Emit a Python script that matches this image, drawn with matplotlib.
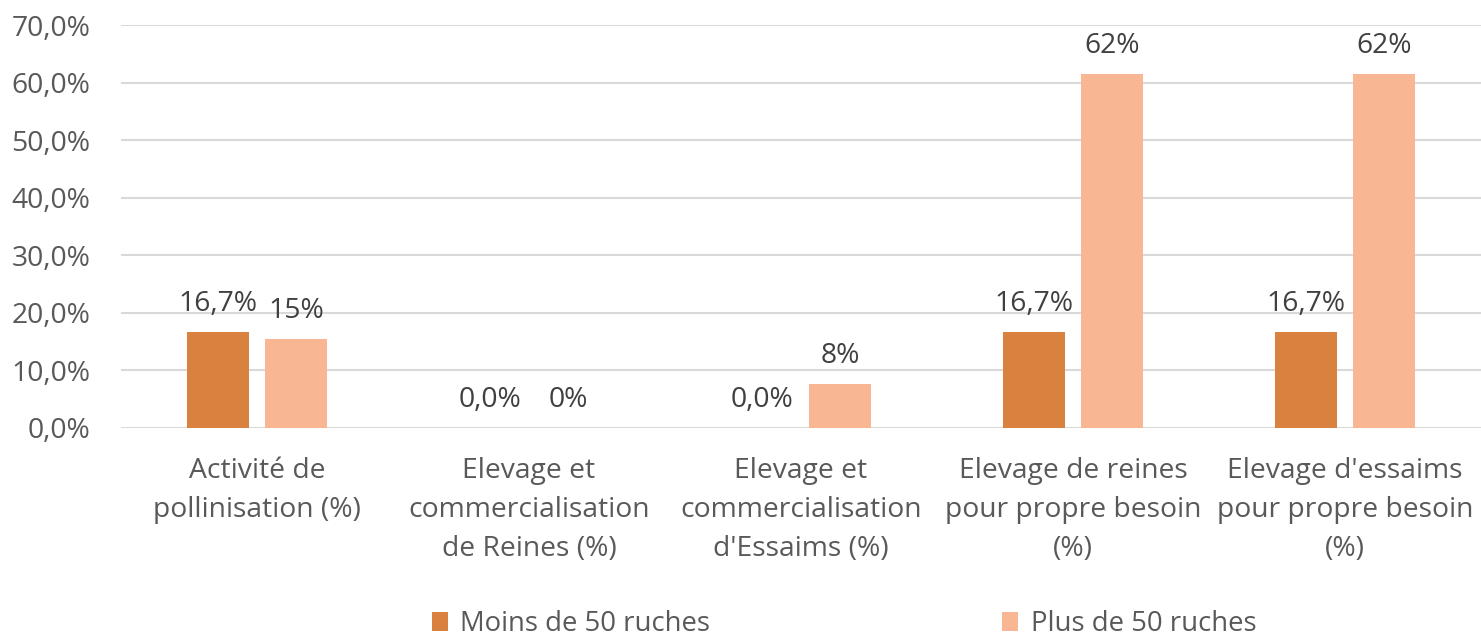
import matplotlib
matplotlib.use("Agg")
import matplotlib.pyplot as plt
import numpy as np
from matplotlib.ticker import FuncFormatter

categories = ["Activité de\npollinisation (%)",
              "Elevage et\ncommercialisation\nde Reines (%)",
              "Elevage et\ncommercialisation\nd'Essaims (%)",
              "Elevage de reines\npour propre besoin\n(%)",
              "Elevage d'essaims\npour propre besoin\n(%)"]
series_names = ["Moins de 50 ruches", "Plus de 50 ruches"]
moins = [16.7, 0.0, 0.0, 16.7, 16.7]
plus = [15.4, 0.0, 7.7, 61.5, 61.5]
moins_labels = ["16,7%", "0,0%", "0,0%", "16,7%", "16,7%"]
plus_labels = ["15%", "0%", "8%", "62%", "62%"]

plt.rcParams['font.family'] = ['Open Sans', 'DejaVu Sans']
TXT = "#595959"
FS = 20.3

fig = plt.figure(figsize=(14.81, 6.42), dpi=100)
ax = fig.add_axes([121/1481, 214/642, 1 - 121/1481, (428-25)/642])

x = np.arange(len(categories))
w = 0.228
off = 0.143
b1 = ax.bar(x - off, moins, w, color="#D9823F", label=series_names[0], zorder=3)
b2 = ax.bar(x + off, plus, w, color="#F8B692", label=series_names[1], zorder=3)

for rect, lab in zip(b1, moins_labels):
    ax.annotate(lab, (rect.get_x() + rect.get_width()/2, rect.get_height()),
                xytext=(0, 10), textcoords="offset points", ha="center", va="bottom",
                fontsize=FS, color="#404040")
for rect, lab in zip(b2, plus_labels):
    ax.annotate(lab, (rect.get_x() + rect.get_width()/2, rect.get_height()),
                xytext=(0, 10), textcoords="offset points", ha="center", va="bottom",
                fontsize=FS, color="#404040")

ax.set_xlim(-0.5, len(categories) - 0.5)
ax.set_ylim(0, 70)
ax.set_yticks(np.arange(0, 71, 10))
ax.yaxis.set_major_formatter(FuncFormatter(lambda v, p: f"{v:.1f}%".replace(".", ",")))
ax.set_xticks(x)
ax.set_xticklabels(categories, fontsize=FS, color=TXT, linespacing=1.52)
ax.tick_params(axis="x", length=0, pad=21)
ax.tick_params(axis="y", length=0, pad=22, labelsize=FS, labelcolor=TXT)
ax.yaxis.grid(True, color="#D9D9D9", linewidth=1.5, zorder=0)
ax.set_axisbelow(True)
for s in ax.spines.values():
    s.set_visible(False)

fig.legend(handles=[b1, b2], labels=series_names, loc="center",
           bbox_to_anchor=(844/1481, 18/642), ncol=2, frameon=False,
           fontsize=19.8, labelcolor=TXT, handlelength=0.6, handleheight=0.7,
           handletextpad=0.45, columnspacing=10.6, borderpad=0.1)

fig.savefig("out.png", dpi=100)
